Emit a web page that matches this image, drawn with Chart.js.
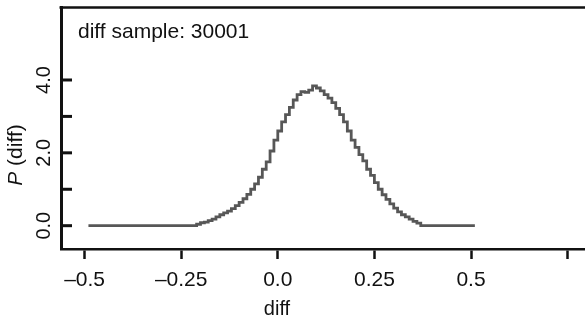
<!DOCTYPE html>
<html>
<head>
<meta charset="utf-8">
<script src="https://cdn.jsdelivr.net/npm/chart.js@4.4.0/dist/chart.umd.min.js"></script>
<style>
  html, body { margin: 0; padding: 0; background: #fff; }
  #wrap { width: 585px; height: 321px; }
</style>
</head>
<body>
<div id="wrap"><canvas id="diffChart" width="585" height="321"></canvas></div>
<script>
// bin left edges (diff) and estimated density P(diff)
var diffX = [-0.49,
  -0.22, -0.21, -0.20, -0.19, -0.18, -0.17, -0.16, -0.15, -0.14, -0.13,
  -0.12, -0.11, -0.10, -0.09, -0.08, -0.07, -0.06, -0.05, -0.04, -0.03,
  -0.02, -0.01, 0.00, 0.01, 0.02, 0.03, 0.04, 0.05, 0.06, 0.07,
  0.08, 0.09, 0.10, 0.11, 0.12, 0.13, 0.14, 0.15, 0.16, 0.17,
  0.18, 0.19, 0.20, 0.21, 0.22, 0.23, 0.24, 0.25, 0.26, 0.27,
  0.28, 0.29, 0.30, 0.31, 0.32, 0.33, 0.34, 0.35, 0.36, 0.37,
  0.51];
var density = [0,
  0, 0.04, 0.08, 0.10, 0.14, 0.18, 0.24, 0.30, 0.35, 0.40,
  0.47, 0.55, 0.64, 0.74, 0.86, 1.00, 1.15, 1.33, 1.55, 1.75,
  2.05, 2.35, 2.60, 2.85, 3.05, 3.25, 3.45, 3.60, 3.68, 3.66,
  3.72, 3.84, 3.78, 3.70, 3.60, 3.50, 3.38, 3.22, 3.05, 2.85,
  2.60, 2.35, 2.15, 1.95, 1.78, 1.55, 1.38, 1.18, 1.00, 0.85,
  0.72, 0.60, 0.48, 0.38, 0.30, 0.24, 0.18, 0.12, 0.07, 0,
  0];

var xTicks = [-0.5, -0.25, 0, 0.25, 0.5, 0.75];
var xTickLabels = ['\u20130.5', '\u20130.25', '0.0', '0.25', '0.5', ''];
var yTicks = [0, 1, 2, 3, 4];
var yTickLabels = ['0.0', '', '2.0', '', '4.0'];
var sampleText = 'diff sample: 30001';
var xTitle = 'diff';

var FONT = '"Liberation Sans", Arial, sans-serif';
var INK = '#111';

var axisDecor = {
  id: 'axisDecor',
  afterDraw: function(chart) {
    var ctx = chart.ctx, a = chart.chartArea;
    var ys = chart.scales.y;
    ctx.save();
    ctx.strokeStyle = INK;
    ctx.fillStyle = INK;
    // top frame line (right side is cut off in the original)
    ctx.lineWidth = 2.5;
    ctx.beginPath();
    ctx.moveTo(a.left - 1.5, a.top);
    ctx.lineTo(a.right, a.top);
    ctx.stroke();
    // y ticks point inward
    ctx.lineWidth = 3;
    yTicks.forEach(function(v) {
      var py = ys.getPixelForValue(v);
      ctx.beginPath();
      ctx.moveTo(a.left, py);
      ctx.lineTo(a.left + 11, py);
      ctx.stroke();
    });
    // rotated y labels
    ctx.font = '20px ' + FONT;
    ctx.textAlign = 'center';
    ctx.textBaseline = 'middle';
    yTicks.forEach(function(v, i) {
      if (!yTickLabels[i]) return;
      var py = ys.getPixelForValue(v);
      ctx.save();
      ctx.translate(44, py);
      ctx.rotate(-Math.PI / 2);
      ctx.fillText(yTickLabels[i], 0, 0);
      ctx.restore();
    });
    // y title: italic P + (diff)
    ctx.save();
    ctx.translate(16, 155);
    ctx.rotate(-Math.PI / 2);
    ctx.textAlign = 'left';
    ctx.font = 'italic 21px ' + FONT;
    var wP = ctx.measureText('P').width;
    ctx.font = '21px ' + FONT;
    var rest = ' (diff)';
    var wR = ctx.measureText(rest).width;
    var x0 = -(wP + wR) / 2;
    ctx.font = 'italic 21px ' + FONT;
    ctx.fillText('P', x0, 0);
    ctx.font = '21px ' + FONT;
    ctx.fillText(rest, x0 + wP, 0);
    ctx.restore();
    // annotation
    ctx.textAlign = 'left';
    ctx.textBaseline = 'alphabetic';
    ctx.font = '21px ' + FONT;
    ctx.fillText(sampleText, 78, 38);
    // x title
    ctx.textAlign = 'center';
    ctx.font = '20px ' + FONT;
    ctx.fillText(xTitle, 277, 315);
    ctx.restore();
  }
};

var ctx = document.getElementById('diffChart');
var theChart = new Chart(ctx, {
  type: 'line',
  data: {
    datasets: [{
      data: diffX.map(function(x, i) { return { x: x, y: density[i] }; }),
      borderColor: '#575757',
      borderWidth: 2.8,
      pointRadius: 0,
      fill: false,
      stepped: true,
      tension: 0
    }]
  },
  options: {
    responsive: false,
    animation: false,
    layout: { padding: { top: 7.5, right: 0, left: 0, bottom: 0 } },
    plugins: { legend: { display: false }, tooltip: { enabled: false } },
    scales: {
      x: {
        type: 'linear',
        min: -0.561,
        max: 0.795,
        afterBuildTicks: function(s) { s.ticks = xTicks.map(function(v) { return { value: v }; }); },
        afterFit: function(s) { s.height = 72; },
        grid: { display: true, drawOnChartArea: false, drawTicks: true, tickLength: 10, tickWidth: 2.5, tickColor: INK },
        border: { display: true, color: INK, width: 2.5 },
        ticks: {
          color: INK,
          font: { family: FONT, size: 21 },
          padding: 9,
          maxRotation: 0,
          minRotation: 0,
          autoSkip: false,
          callback: function(v, i) { return xTickLabels[i]; }
        }
      },
      y: {
        min: -0.64,
        max: 5.99,
        afterBuildTicks: function(s) { s.ticks = yTicks.map(function(v) { return { value: v }; }); },
        afterFit: function(s) { s.width = 61; },
        grid: { display: false },
        border: { display: true, color: INK, width: 3 },
        ticks: { display: false }
      }
    }
  },
  plugins: [axisDecor]
});
</script>
</body>
</html>
